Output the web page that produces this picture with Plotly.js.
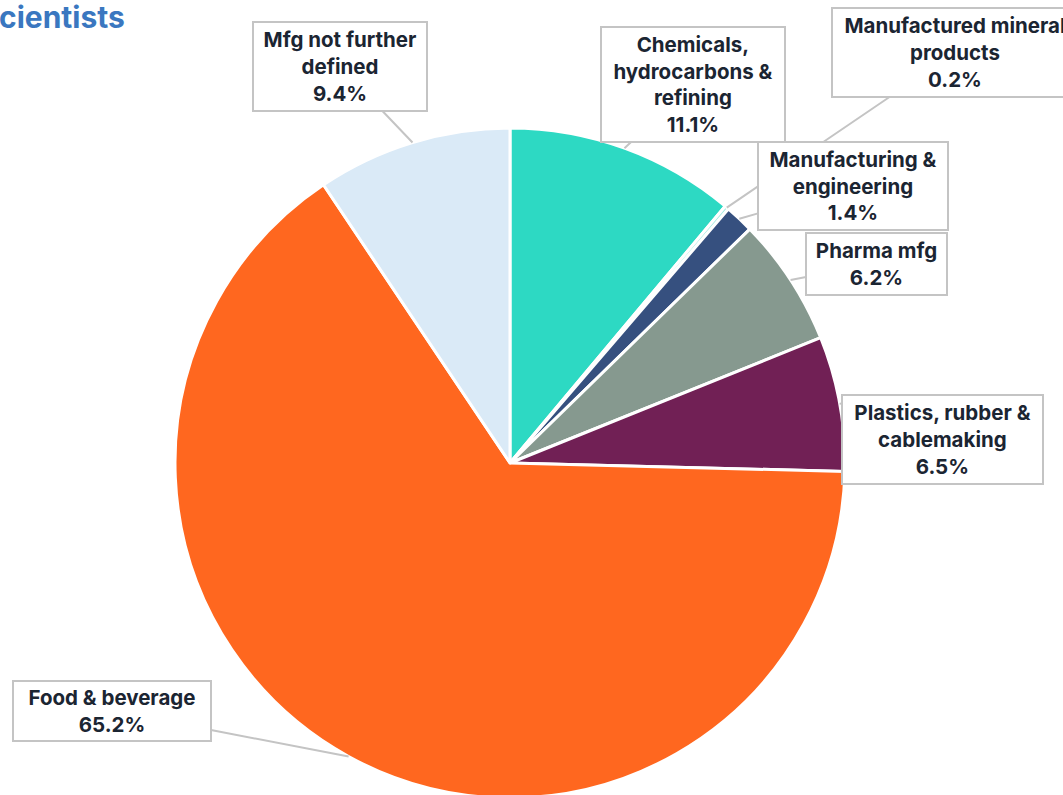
<!DOCTYPE html>
<html>
<head>
<meta charset="utf-8">
<script src="https://cdn.plot.ly/plotly-3.0.1.min.js"></script>
<style>
html,body{margin:0;padding:0;overflow:hidden;background:#fff;}
#chart{width:1063px;height:800px;}
</style>
</head>
<body>
<div id="chart"></div>
<script>
// ---- data ----
const categories = [
  "Chemicals, hydrocarbons & refining",
  "Manufactured mineral products",
  "Manufacturing & engineering",
  "Pharma mfg",
  "Plastics, rubber & cablemaking",
  "Food & beverage",
  "Mfg not further defined"
];
const labelTexts = [
  "Chemicals,<br>hydrocarbons &<br>refining",
  "Manufactured mineral<br>products",
  "Manufacturing &<br>engineering",
  "Pharma mfg",
  "Plastics, rubber &<br>cablemaking",
  "Food & beverage",
  "Mfg not further<br>defined"
];
const shares = [11.1, 0.2, 1.4, 6.2, 6.5, 65.2, 9.4];
const colors = ["#2DD9C3", "#A9ECE3", "#36507F", "#86998F", "#712055", "#FF671F", "#DAEAF7"];

// ---- layout geometry (pixels) ----
const W = 1063, H = 800;
const cx = 510, cy = 463, R = 335;
// label box centres and sizes [x, y, w, h]
const boxes = [
  [693, 84.5, 184, 115],
  [955, 52.5, 246, 89],
  [853, 186, 190, 88],
  [876.5, 264, 141, 62],
  [942.5, 439.5, 201, 89],
  [112, 711, 198, 60],
  [340, 66.5, 174, 89]
];

const total = shares.reduce((a, b) => a + b, 0);
let cum = 0;
const annotations = [];
shares.forEach((v, i) => {
  const mid = (cum + v / 2) / total * 2 * Math.PI;
  cum += v;
  const tx = cx + R * Math.sin(mid);
  const ty = cy - R * Math.cos(mid);
  const b = boxes[i];
  annotations.push({
    xref: "paper", yref: "paper",
    x: tx / W, y: 1 - ty / H,
    ax: b[0] - tx, ay: b[1] - ty,
    showarrow: true, arrowhead: 0, arrowwidth: 2, arrowcolor: "#C4C4C4", standoff: 0,
    text: "<b>" + labelTexts[i] + "<br>" + v.toFixed(1) + "%</b>",
    font: {family: "Inter, 'Noto Sans', sans-serif", size: 20.5, color: "#1B2532"},
    align: "center",
    bgcolor: "#ffffff", bordercolor: "#C4C4C4", borderwidth: 2, borderpad: 0,
    width: b[2] - 2, height: b[3] - 2, valign: "middle"
  });
});

annotations.push({
  xref: "paper", yref: "paper", x: 0, y: 1, xanchor: "left", yanchor: "top",
  xshift: -3, yshift: 3,
  showarrow: false,
  text: "<b>cientists</b>",
  font: {family: "Inter, 'Noto Sans', sans-serif", size: 30, color: "#3A77C0"}
});

const data = [{
  type: "pie",
  labels: categories,
  values: shares,
  sort: false,
  direction: "clockwise",
  rotation: 0,
  textinfo: "none",
  marker: {colors: colors, line: {color: "#ffffff", width: 3}},
  domain: {x: [(cx - R) / W, (cx + R) / W], y: [(H - cy - R) / H, (H - cy + R) / H]},
  showlegend: false
}];

const layout = {
  width: W, height: H,
  margin: {l: 0, r: 0, t: 0, b: 0},
  paper_bgcolor: "#ffffff",
  showlegend: false,
  annotations: annotations
};

Plotly.newPlot("chart", data, layout, {displayModeBar: false, staticPlot: true});
</script>
</body>
</html>
